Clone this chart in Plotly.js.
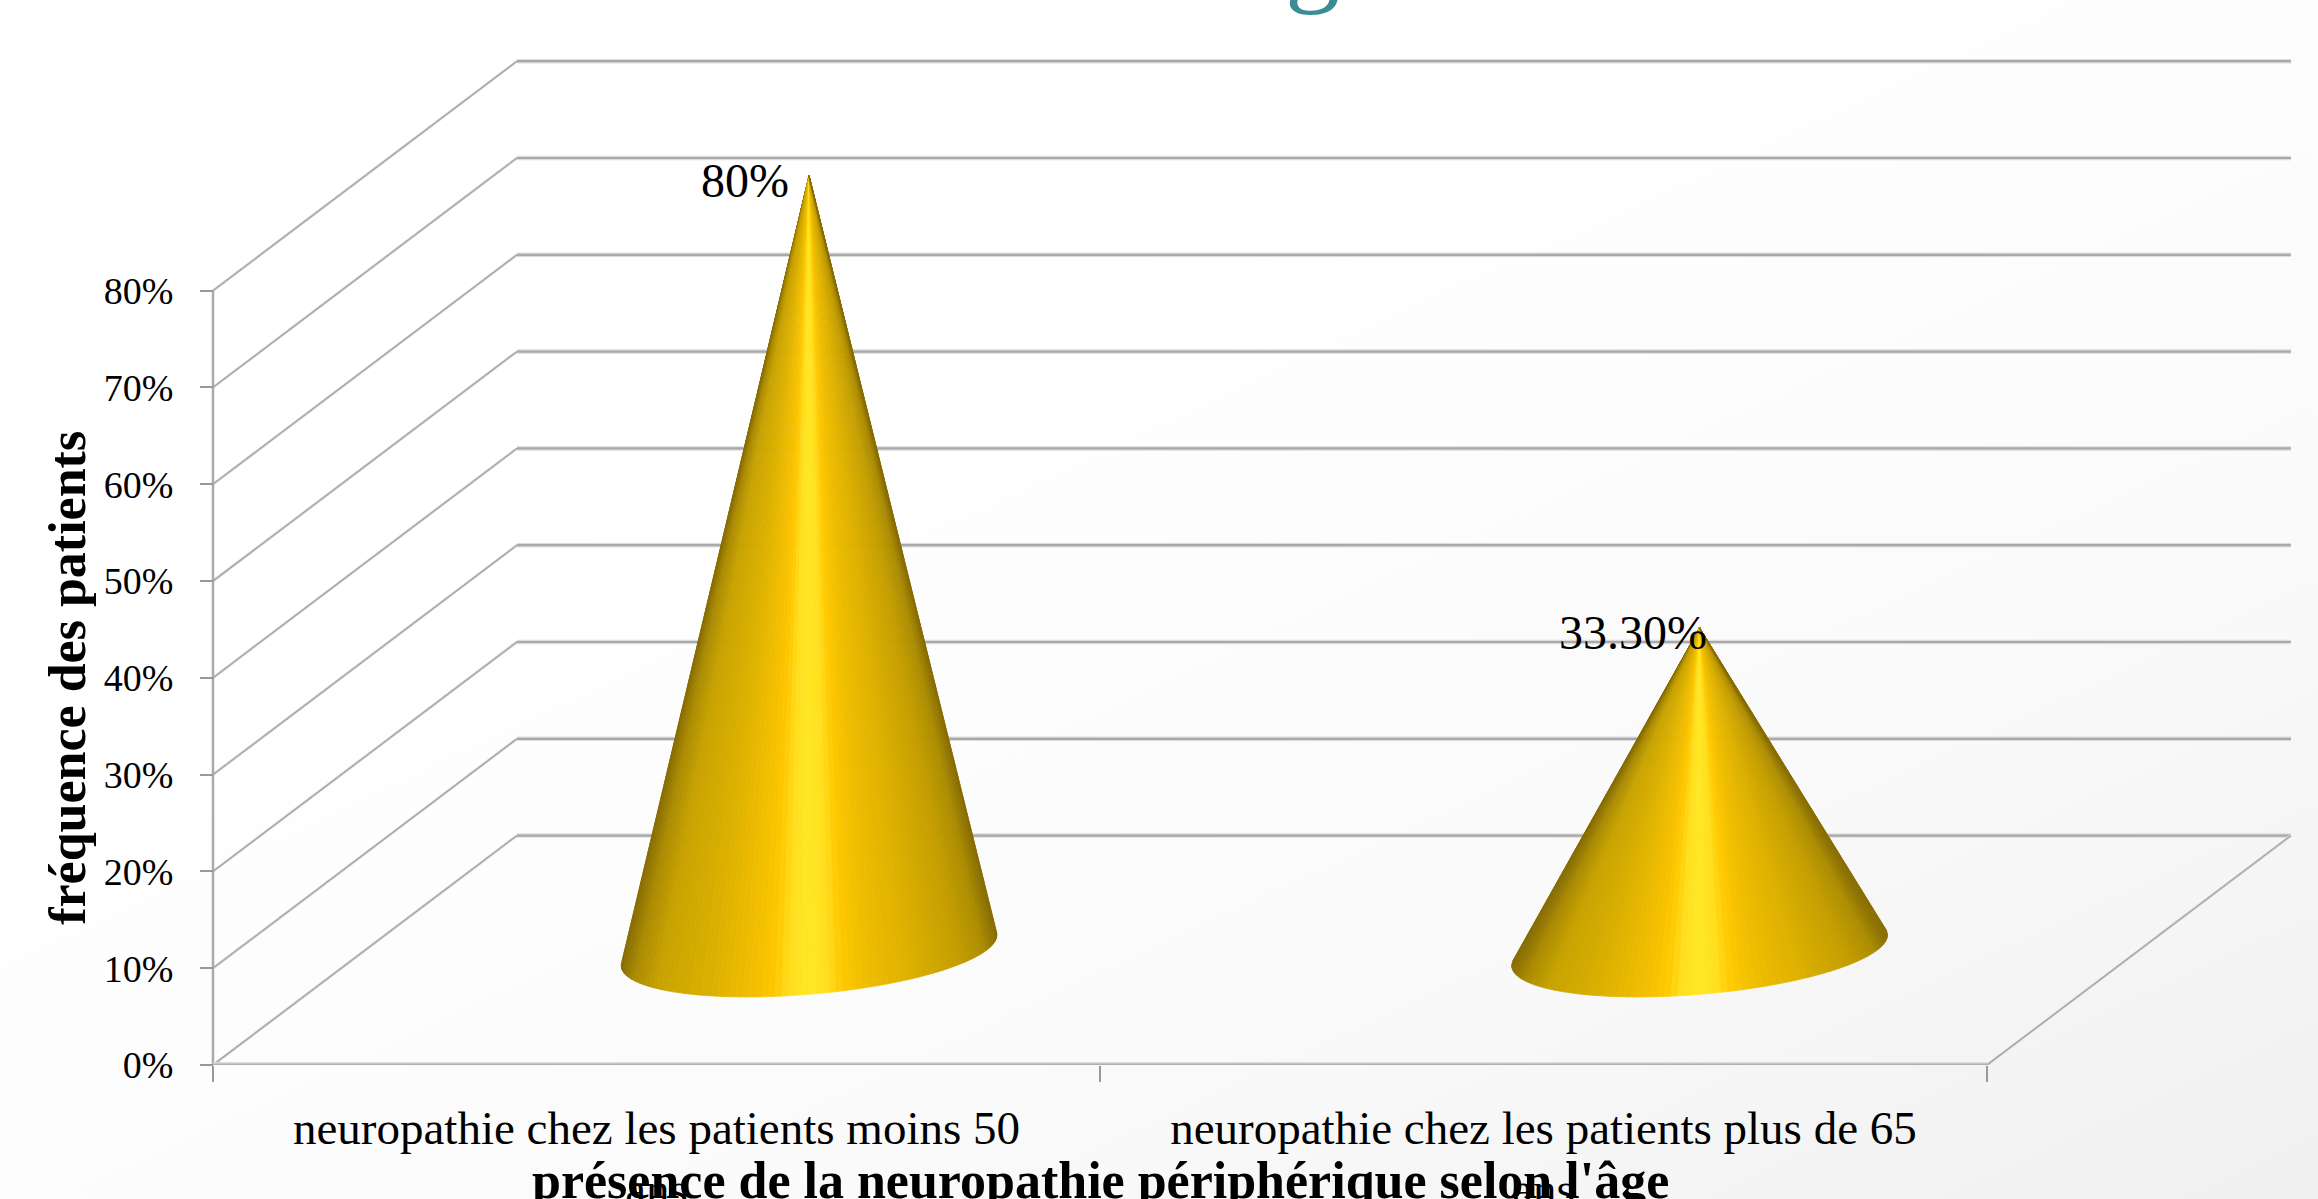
<!DOCTYPE html>
<html>
<head>
<meta charset="utf-8">
<script src="https://cdn.plot.ly/plotly-3.0.1.min.js"></script>
<style>
html,body{margin:0;padding:0;width:2318px;height:1199px;overflow:hidden;
background:linear-gradient(155deg,#ffffff 35%,#fafafa 70%,#f0f0f0 100%);}
#chart{width:2318px;height:1199px;}
</style>
</head>
<body>
<div id="chart"></div>
<script>
const categories = ["neuropathie chez les patients moins 50<br>ans", "neuropathie chez les patients plus de 65<br>ans"];
const values = [80, 33.3];
const valueLabels = ["80%", "33.30%"];
const yTicks = [0, 10, 20, 30, 40, 50, 60, 70, 80];
const yTickLabels = ["0%", "10%", "20%", "30%", "40%", "50%", "60%", "70%", "80%"];
const xTitle = "présence de la neuropathie périphérique selon l'âge";
const yTitle = "fréquence des patients";
const slideTitleFragment = "g";

// oblique projection of the floor, in axis units
const depthX = 0.3427, depthY = 23.7;
const coneX = [0.672, 1.676];
const coneRadiusX = 0.2, coneDepthX = 0.0699, coneDepthY = 4.82;
const labelShift = [-18, 9];
const serif = "Liberation Serif, serif";

const traces = [];
function line(x, y, color, width) {
  traces.push({type: "scatter", mode: "lines", x, y, cliponaxis: false, hoverinfo: "skip",
    line: {color, width, shape: "linear"}, showlegend: false});
}
// walls and floor grid
yTicks.forEach(v => {
  line([0, depthX], [v, v + depthY], "#e6e6e6", 3);
  line([0, depthX], [v, v + depthY], "#a8a8a8", 1.6);
  line([depthX, 2 + depthX], [v + depthY, v + depthY], "#dcdcdc", 4.5);
  line([depthX, 2 + depthX], [v + depthY, v + depthY], "#a9a9a9", 2.2);
});
line([2, 2 + depthX], [0, depthY], "#e6e6e6", 3);
line([2, 2 + depthX], [0, depthY], "#a8a8a8", 1.6);
line([0, 0], [0, 80], "#aaaaaa", 2.5);
line([0, 2], [0, 0], "#dcdcdc", 6);
line([0, 2], [0, 0], "#b0b0b0", 3);

// gold shading across the cone, from the left silhouette to the right one
const shadeStops = [[-1,[135,108,0]],[-0.93,[170,138,0]],[-0.8,[200,163,0]],[-0.5,[222,178,0]],
  [-0.27,[245,192,0]],[-0.18,[255,200,0]],[-0.1,[255,222,30]],[0,[255,232,36]],[0.1,[255,222,30]],
  [0.18,[255,200,0]],[0.3,[240,190,0]],[0.55,[220,176,0]],[0.8,[196,158,0]],[0.93,[172,140,0]],[1,[135,108,0]]];
function shade(u) {
  for (let i = 1; i < shadeStops.length; i++) {
    if (u <= shadeStops[i][0]) {
      const a = shadeStops[i-1], b = shadeStops[i], f = (u - a[0]) / (b[0] - a[0]);
      return "rgb(" + a[1].map((c, k) => Math.round(c + (b[1][k] - c) * f)).join(",") + ")";
    }
  }
  return "rgb(135,108,0)";
}
values.forEach((v, idx) => {
  const cx = coneX[idx], cy = depthY / 2, apexY = cy + v;
  const ex = t => cx + coneRadiusX * Math.cos(t) + coneDepthX * Math.sin(t);
  const ey = t => cy + coneDepthY * Math.sin(t);
  let tL = Math.PI, tR = 2 * Math.PI, minR = Infinity, maxR = -Infinity;
  for (let t = Math.PI - 0.4; t < 2 * Math.PI + 0.9; t += 0.002) {
    const r = (ex(t) - cx) / (apexY - ey(t));
    if (r < minR) { minR = r; tL = t; }
    if (r > maxR) { maxR = r; tR = t; }
  }
  const N = 90;
  const half = coneRadiusX * 1.06;
  for (let i = 0; i < N; i++) {
    const t0 = tL + (tR - tL) * i / N, t1 = tL + (tR - tL) * (i + 1) / N;
    const col = shade(Math.max(-1, Math.min(1, (ex((t0 + t1) / 2) - cx) / half)));
    traces.push({type: "scatter", mode: "lines", x: [cx, ex(t0), ex(t1), cx], y: [apexY, ey(t0), ey(t1), apexY],
      fill: "toself", fillcolor: col, line: {color: col, width: 0.7}, hoverinfo: "skip", showlegend: false});
  }
});

const annotations = values.map((v, i) => ({
  x: coneX[i], y: depthY / 2 + v, xref: "x", yref: "y", text: valueLabels[i], showarrow: false,
  xanchor: "right", yanchor: "middle", xshift: labelShift[i], yshift: -5,
  font: {family: serif, size: 48, color: "#000"}
}));
annotations.push({x: 1312 / 2318, y: 1, xref: "paper", yref: "paper", yanchor: "bottom", yshift: -18,
  text: slideTitleFragment, showarrow: false, font: {family: serif, size: 110, color: "#3b8c96"}});
annotations.push({x: 1, y: 0, xref: "x", yref: "paper", xanchor: "center", yanchor: "middle", yshift: 19,
  text: "<b>" + xTitle + "</b>", showarrow: false, font: {family: serif, size: 52, color: "#000"}});
annotations.push({x: 68 / 2318, y: 40, xref: "paper", yref: "y", xanchor: "center", yanchor: "middle", textangle: -90,
  text: "<b>" + yTitle + "</b>", showarrow: false, font: {family: serif, size: 52, color: "#000"}});

const layout = {
  width: 2318, height: 1199, margin: {l: 0, r: 0, t: 0, b: 0, pad: 0},
  paper_bgcolor: "rgba(0,0,0,0)", plot_bgcolor: "rgba(0,0,0,0)",
  showlegend: false, hovermode: false,
  font: {family: serif, color: "#000"},
  xaxis: {domain: [0, 1], range: [-213 / 887, 2105 / 887], tickmode: "array", tickvals: [0.5, 1.5], ticktext: categories,
    showgrid: false, zeroline: false, showline: false, ticks: "", ticklen: 0, tickangle: 0, automargin: false,
    ticklabelstandoff: 31,
    tickfont: {family: serif, size: 47, color: "#000"},
    minor: {tickmode: "array", tickvals: [0, 1, 2], ticks: "outside", ticklen: 16, tickwidth: 1.5, tickcolor: "#999", showgrid: false}},
  yaxis: {domain: [134 / 1199, 1], range: [0, 1065 / 9.68], tickmode: "array", tickvals: yTicks, ticktext: yTickLabels,
    anchor: "free", position: 213 / 2318, showgrid: false, zeroline: false, showline: false, automargin: false,
    ticks: "outside", ticklen: 13, tickwidth: 2, tickcolor: "#999", ticklabelstandoff: 19,
    tickfont: {family: serif, size: 38, color: "#000"}},
  annotations
};
Plotly.newPlot("chart", traces, layout, {displayModeBar: false, staticPlot: true});
</script>
</body>
</html>
